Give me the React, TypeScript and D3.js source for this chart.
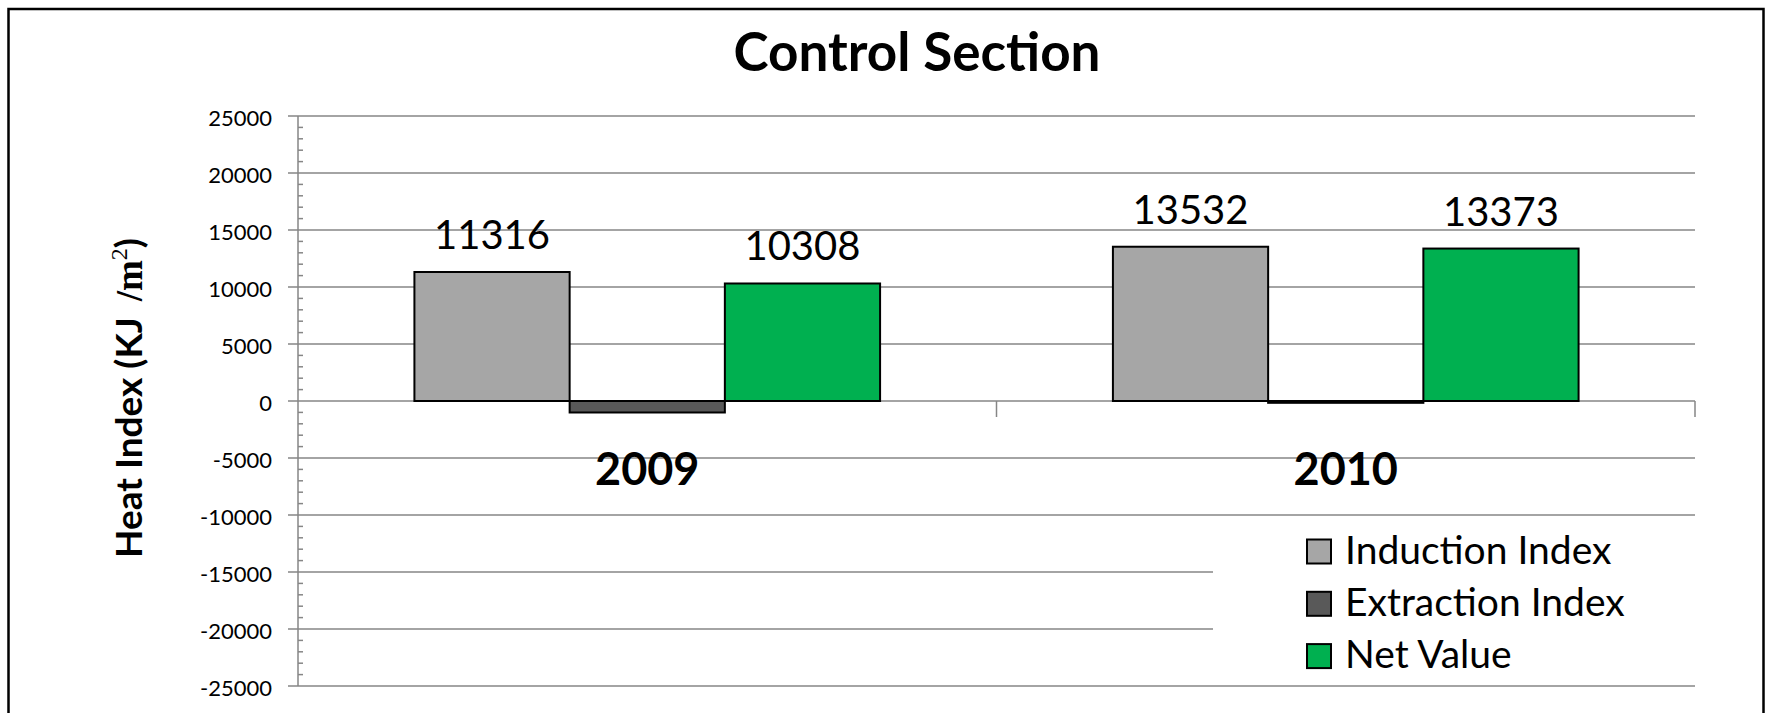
import React, { useEffect, useRef } from "react";
import * as d3 from "d3";

const categories = ["2009", "2010"];
const seriesNames = ["Induction Index", "Extraction Index", "Net Value"];
const inductionValues = [11316, 13532];
const extractionValues = [-1008, -159];
const netValues = [10308, 13373];
const seriesColors = ["#A6A6A6", "#595959", "#00B050"];
const yTicks = [25000, 20000, 15000, 10000, 5000, 0, -5000, -10000, -15000, -20000, -25000];

const W = 1767;
const H = 713;
const FONT = "Lato, 'Open Sans', sans-serif";
const GRID = "#868686";

const App = () => {
  const ref = useRef<SVGSVGElement>(null);

  useEffect(() => {
    const svg = d3.select(ref.current);
    svg.selectAll("*").remove();

    const left = 298;
    const right = 1695;
    const top = 116;
    const bottom = 686;

    const x0 = d3.scaleBand().domain(categories).range([left, right]).padding(0);
    const x1 = d3
      .scaleBand()
      .domain(seriesNames)
      .range([0, x0.bandwidth()])
      .paddingInner(0)
      .paddingOuter(0.75);
    const y = d3.scaleLinear().domain([-25000, 25000]).range([bottom, top]);

    // outer frame
    svg
      .append("rect")
      .attr("x", 8.5)
      .attr("y", 9)
      .attr("width", 1755)
      .attr("height", 740)
      .attr("fill", "white")
      .attr("stroke", "black")
      .attr("stroke-width", 2.5);

    // title
    svg
      .append("text")
      .attr("x", 917)
      .attr("y", 71)
      .attr("text-anchor", "middle")
      .style("font-family", FONT)
      .style("font-weight", "bold")
      .style("font-size", "53px")
      .text("Control Section");

    // gridlines + major ticks
    svg
      .selectAll(".grid")
      .data(yTicks)
      .enter()
      .append("line")
      .attr("x1", left - 10)
      .attr("x2", right)
      .attr("y1", (d) => y(d))
      .attr("y2", (d) => y(d))
      .attr("stroke", GRID)
      .attr("stroke-width", 1.5);

    // minor ticks every 1000
    const minor = d3.range(-25000, 25001, 1000).filter((v) => v % 5000 !== 0);
    svg
      .selectAll(".minor")
      .data(minor)
      .enter()
      .append("line")
      .attr("x1", left)
      .attr("x2", left + 5)
      .attr("y1", (d) => y(d))
      .attr("y2", (d) => y(d))
      .attr("stroke", GRID)
      .attr("stroke-width", 1.5);

    // y axis line
    svg
      .append("line")
      .attr("x1", left)
      .attr("x2", left)
      .attr("y1", y(25000))
      .attr("y2", y(-25000))
      .attr("stroke", GRID)
      .attr("stroke-width", 1.5);

    // category ticks below zero line
    const edges = categories.map((c) => x0(c) + x0.bandwidth());
    svg
      .selectAll(".ctick")
      .data(edges)
      .enter()
      .append("line")
      .attr("x1", (d) => d)
      .attr("x2", (d) => d)
      .attr("y1", y(0))
      .attr("y2", y(0) + 16)
      .attr("stroke", GRID)
      .attr("stroke-width", 1.5);

    // y tick labels
    svg
      .selectAll(".ylab")
      .data(yTicks)
      .enter()
      .append("text")
      .attr("x", 272)
      .attr("y", (d) => y(d) + 9.5)
      .attr("text-anchor", "end")
      .style("font-family", FONT)
      .style("font-size", "22px")
      .text((d) => String(d));

    // y axis title
    const yt = svg
      .append("text")
      .attr("transform", "translate(142,398) rotate(-90)")
      .attr("text-anchor", "middle")
      .style("font-family", FONT)
      .style("font-weight", "bold")
      .style("font-size", "37px");
    yt.append("tspan").text("Heat Index (KJ");
    yt.append("tspan")
      .attr("dx", 16)
      .style("font-family", "'Liberation Serif', serif")
      .text("/m");
    yt.append("tspan")
      .style("font-family", "'Liberation Serif', serif")
      .style("font-weight", "normal")
      .style("font-size", "24px")
      .attr("dy", -15)
      .text("2");
    yt.append("tspan").attr("dy", 15).text(")");

    // bars
    const allSeries = [inductionValues, extractionValues, netValues];
    const rows = categories.flatMap((c, ci) =>
      seriesNames.map((s, si) => ({ c, s, si, v: allSeries[si][ci] }))
    );

    svg
      .selectAll(".bar")
      .data(rows)
      .enter()
      .append("rect")
      .attr("x", (d) => x0(d.c) + x1(d.s))
      .attr("y", (d) => y(Math.max(0, d.v)))
      .attr("width", x1.bandwidth())
      .attr("height", (d) => Math.abs(y(d.v) - y(0)))
      .attr("fill", (d) => seriesColors[d.si])
      .attr("stroke", "black")
      .attr("stroke-width", 2);

    // value labels (positive series only)
    svg
      .selectAll(".vlab")
      .data(rows.filter((d) => d.si !== 1))
      .enter()
      .append("text")
      .attr("x", (d) => x0(d.c) + x1(d.s) + x1.bandwidth() / 2)
      .attr("y", (d) => y(d.v) - 23)
      .attr("text-anchor", "middle")
      .style("font-family", FONT)
      .style("font-size", "40px")
      .text((d) => String(d.v));

    // category labels
    svg
      .selectAll(".clab")
      .data(categories)
      .enter()
      .append("text")
      .attr("x", (d) => x0(d) + x0.bandwidth() / 2)
      .attr("y", 485)
      .attr("text-anchor", "middle")
      .style("font-family", FONT)
      .style("font-weight", "bold")
      .style("font-size", "45px")
      .text((d) => d);

    // legend
    svg
      .append("rect")
      .attr("x", 1213)
      .attr("y", 522)
      .attr("width", 484)
      .attr("height", 156)
      .attr("fill", "white");

    const lg = svg
      .selectAll(".leg")
      .data(seriesNames)
      .enter()
      .append("g")
      .attr("transform", (d, i) => `translate(1307,${539.5 + i * 52.3})`);
    lg.append("rect")
      .attr("width", 24)
      .attr("height", 24)
      .attr("fill", (d, i) => seriesColors[i])
      .attr("stroke", "black")
      .attr("stroke-width", 2);
    lg.append("text")
      .attr("x", 38)
      .attr("y", 24)
      .style("font-family", FONT)
      .style("font-size", "39px")
      .text((d) => d);
  }, []);

  return (
    <svg
      ref={ref}
      width={W}
      height={H}
      style={{ position: "absolute", left: 0, top: 0, background: "white" }}
    />
  );
};

export default App;
